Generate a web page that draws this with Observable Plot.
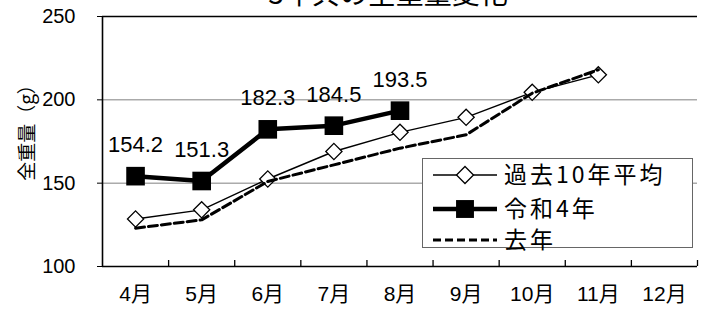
<!DOCTYPE html>
<html><head><meta charset="utf-8">
<script src="https://cdn.jsdelivr.net/npm/d3@7"></script>
<script src="https://cdn.jsdelivr.net/npm/@observablehq/plot@0.6"></script>
<style>
html,body{margin:0;padding:0;background:#fff;overflow:hidden}
#chart{position:relative;width:701px;height:309px}
</style></head><body><div id="chart"></div>
<script>
// ---- data ----
const months = ["4月","5月","6月","7月","8月","9月","10月","11月","12月"];
const seriesNames = ["過去10年平均","令和4年","去年"];
const avg10 = [128.5, 134, 152.5, 169, 180.5, 189.5, 204.5, 215];
const reiwa4 = [154.2, 151.3, 182.3, 184.5, 193.5];
const lastYear = [123, 128, 151, 161, 171, 179, 204, 218];
const yTicks = [100, 150, 200, 250];
const title = "3年貝の全重量変化";
const yLabel = "全重量（g）";

const toRows = arr => arr.map((v, i) => ({i, v}));
const avgRows = toRows(avg10), reiRows = toRows(reiwa4), lastRows = toRows(lastYear);

const numFont = "'Liberation Sans Narrow','Liberation Sans',Arial,sans-serif";
const jpFont = "'Noto Sans CJK JP','Noto Sans',sans-serif";

const plot = Plot.plot({
  width: 701, height: 309,
  marginLeft: 102, marginRight: 4, marginTop: 16, marginBottom: 43,
  style: {fontFamily: jpFont, background: "white", color: "black"},
  x: {type: "linear", domain: [-0.5, 8.5], axis: null},
  y: {domain: [100, 250], axis: null},
  marks: [
    Plot.ruleY([150, 200], {stroke: "#808080", strokeWidth: 1}),
    Plot.ruleY([250], {stroke: "#000", strokeWidth: 1.3}),
    Plot.axisY({ticks: yTicks, tickSize: 5, tickPadding: 22, fontSize: 20, fontFamily: numFont, label: null, stroke: "#000"}),
    Plot.axisX({ticks: d3.range(months.length), tickFormat: i => months[i], tickSize: 0, tickPadding: 20, fontSize: 21, fontFamily: "'Liberation Sans','Noto Sans CJK JP',sans-serif", label: null}),
    Plot.ruleX(d3.range(months.length).map(i => i + 0.5), {y1: 100, y2: 103.6, stroke: "#000", strokeWidth: 1.3}),
    Plot.ruleY([100], {stroke: "#000", strokeWidth: 1.6}),
    Plot.ruleX([-0.5], {y1: 100, y2: 250, stroke: "#000", strokeWidth: 1.6}),
    // 過去10年平均
    Plot.line(avgRows, {x: "i", y: "v", stroke: "#000", strokeWidth: 1.4}),
    Plot.dot(avgRows, {x: "i", y: "v", symbol: "diamond2", r: 7.3, fill: "white", stroke: "#000", strokeWidth: 1.3}),
    // 令和4年
    Plot.line(reiRows, {x: "i", y: "v", stroke: "#000", strokeWidth: 4.5}),
    Plot.dot(reiRows, {x: "i", y: "v", symbol: "square", r: 10.5, fill: "#000", stroke: "none"}),
    // 去年
    Plot.line(lastRows, {x: "i", y: "v", stroke: "#000", strokeWidth: 3, strokeDasharray: "9,4"}),
    // labels
    Plot.text(reiRows, {x: "i", y: "v", text: d => d.v.toFixed(1), dy: -24, lineAnchor: "bottom", fontSize: 22, fontFamily: numFont, fill: "#000"})
  ]
});
document.getElementById("chart").appendChild(plot);

const svg = d3.select(plot);
// title (clipped at top like reference)
svg.append("text").attr("x", 388).attr("y", 4).attr("text-anchor", "middle")
  .attr("font-family", jpFont).attr("font-size", 28).attr("fill", "#000").text(title);

// y-axis label
svg.append("text").attr("transform", "translate(27,128) rotate(-90)").attr("text-anchor", "middle")
  .attr("dy", "0.36em").attr("font-family", jpFont).attr("font-size", 19).attr("fill", "#000")
  .text(yLabel);

// legend
const lg = svg.append("g");
lg.append("rect").attr("x", 422.5).attr("y", 158.5).attr("width", 270).attr("height", 89)
  .attr("fill", "white").attr("stroke", "#666").attr("stroke-width", 1);
const rowsY = [175, 209, 240];
const x0 = 433, x1 = 497, xm = 465, tx = 504;
// row 1
lg.append("line").attr("x1", x0).attr("x2", x1).attr("y1", rowsY[0]).attr("y2", rowsY[0]).attr("stroke", "#000").attr("stroke-width", 1.4);
lg.append("path").attr("d", d3.symbol(d3.symbolDiamond2, 184)()).attr("transform", `translate(${xm},${rowsY[0]})`).attr("fill", "white").attr("stroke", "#000").attr("stroke-width", 1.3);
// row 2
lg.append("line").attr("x1", x0).attr("x2", x1).attr("y1", rowsY[1]).attr("y2", rowsY[1]).attr("stroke", "#000").attr("stroke-width", 4.5);
lg.append("path").attr("d", d3.symbol(d3.symbolSquare, 320)()).attr("transform", `translate(${xm},${rowsY[1]})`).attr("fill", "#000");
// row 3
lg.append("line").attr("x1", x0).attr("x2", x1).attr("y1", rowsY[2]).attr("y2", rowsY[2]).attr("stroke", "#000").attr("stroke-width", 3).attr("stroke-dasharray", "8,4");
seriesNames.forEach((n, k) => {
  lg.append("text").attr("x", tx).attr("y", rowsY[k]).attr("dy", "0.36em").attr("text-anchor", "start")
    .attr("font-family", jpFont).attr("font-size", 23).attr("letter-spacing", 3).attr("fill", "#000").text(n);
});
</script></body></html>
